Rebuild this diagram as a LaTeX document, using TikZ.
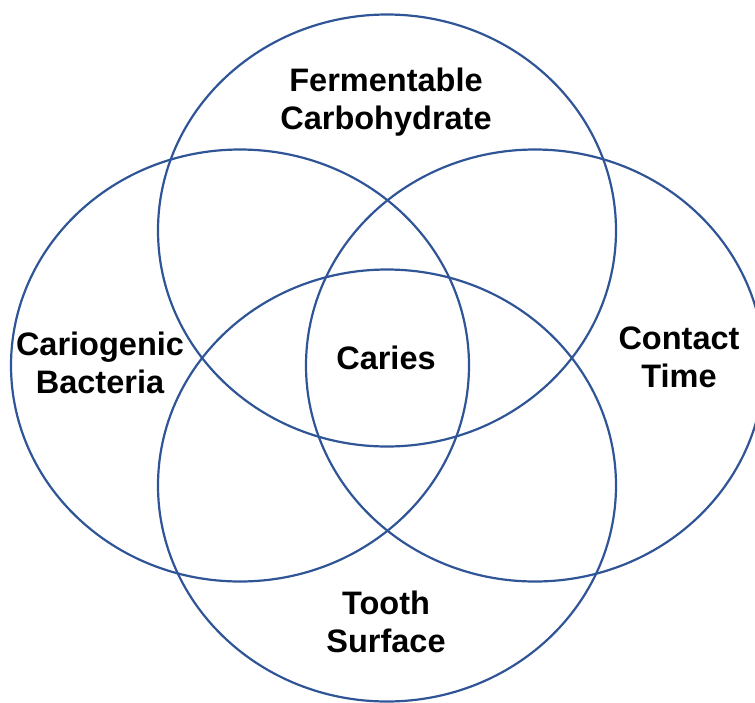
\documentclass[tikz,border=0pt]{standalone}
\usepackage{fontspec}
\setmainfont{Liberation Sans}
\usepackage{xcolor}
\usepackage{tikz}
\usetikzlibrary{shapes.geometric, positioning}

\definecolor{vennblue}{RGB}{47,85,151}

\begin{document}
\begin{tikzpicture}[
        x=1pt, y=-1pt,
        factor/.style={ellipse, draw=vennblue, line width=2.2pt, minimum width=458pt, minimum height=432pt, inner sep=0pt},
        label/.style={text centered, align=center, font=\fontsize{32.5}{38}\selectfont\bfseries}
        ]

        % Page frame
        \useasboundingbox (0,0) rectangle (755,702);
        \clip (0,0) rectangle (755,702);

        % Four overlapping factors
        \node (carb) [factor] at (387,230.5) {};
        \node (bact) [factor] at (240,365.5) {};
        \node (time) [factor] at (535,365.5) {};
        \node (tooth) [factor] at (387,485.5) {};

        % Labels
        \node (carbtext) [label] at (386,102) {Fermentable\\Carbohydrate};
        \node (bacttext) [label] at (100,362.5) {Cariogenic\\Bacteria};
        \node (timetext) [label] at (679,357) {Contact\\Time};
        \node (toothtext) [label] at (386,622) {Tooth\\Surface};
        \node (caries) [label] at (386,357.5) {Caries};

    \end{tikzpicture}
\end{document}
